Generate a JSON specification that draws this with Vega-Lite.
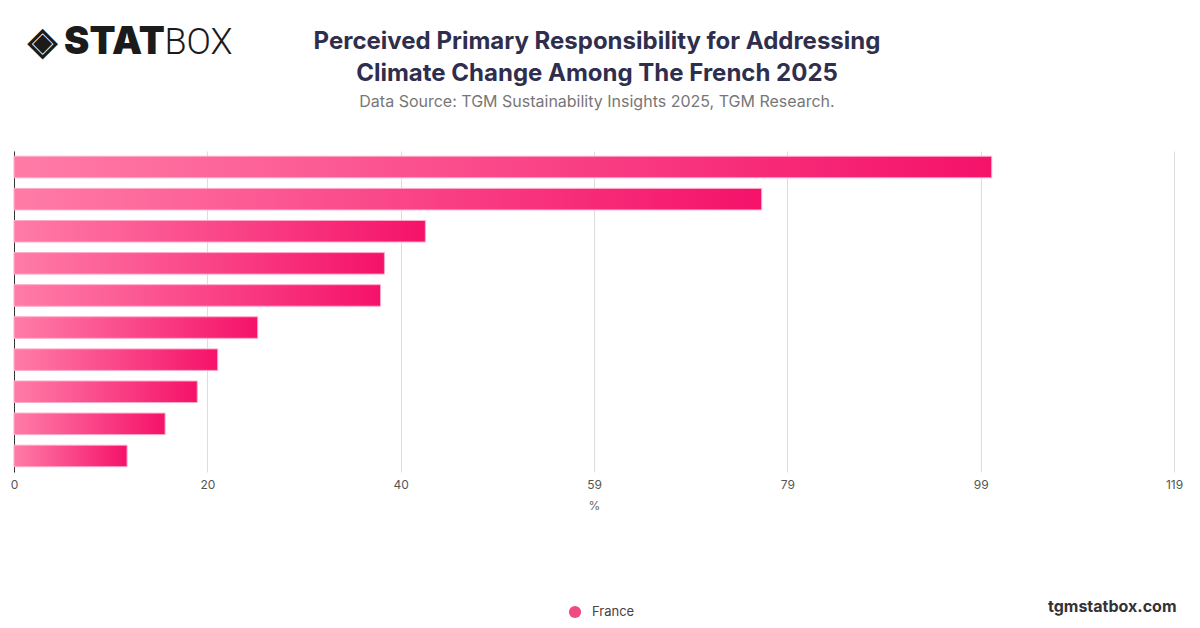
{
  "$schema": "https://vega.github.io/schema/vega-lite/v6.json",
  "width": 1160,
  "height": 321,
  "autosize": {"type": "none"},
  "padding": {"left": 14, "top": 151, "right": 26, "bottom": 156},
  "background": "white",
  "config": {"font": "Inter", "view": {"stroke": null}},
  "title": {
    "text": ["Perceived Primary Responsibility for Addressing", "Climate Change Among The French 2025"],
    "subtitle": "Data Source: TGM Sustainability Insights 2025, TGM Research.",
    "fontSize": 24,
    "fontWeight": "bold",
    "color": "#2f2e4d",
    "lineHeight": 32,
    "subtitleFontSize": 16,
    "subtitleColor": "#777777",
    "subtitleFontWeight": "normal",
    "subtitlePadding": 8,
    "anchor": "middle",
    "frame": "group",
    "dx": 3,
    "offset": -87
  },
  "data": {
    "values": [
      {"response": "Government", "share": 100.3},
      {"response": "Large corporations", "share": 76.7},
      {"response": "Individuals", "share": 42.2},
      {"response": "International organisations", "share": 38.0},
      {"response": "Energy companies", "share": 37.6},
      {"response": "Local authorities", "share": 25.0},
      {"response": "Scientists", "share": 20.9},
      {"response": "Environmental NGOs", "share": 18.8},
      {"response": "Media", "share": 15.5},
      {"response": "Don't know", "share": 11.6}
    ]
  },
  "layer": [
    {
      "mark": {
        "type": "bar",
        "color": {
          "gradient": "linear",
          "x1": 0, "y1": 0, "x2": 1, "y2": 0,
          "stops": [
            {"offset": 0, "color": "#ff7ca7"},
            {"offset": 1, "color": "#f5126a"}
          ]
        },
        "stroke": "#ffa9c9",
        "strokeWidth": 1
      },
      "encoding": {
        "y": {
          "field": "response",
          "type": "nominal",
          "sort": null,
          "scale": {"paddingInner": 0.33, "paddingOuter": 0.165},
          "axis": {
            "labels": false,
            "ticks": false,
            "grid": false,
            "domain": true,
            "domainColor": "#333333",
            "title": "◈ STAT",
            "titleAngle": 0,
            "titleAlign": "left",
            "titleBaseline": "alphabetic",
            "titleX": 13,
            "titleY": -98,
            "titleFontSize": 38,
            "titleFontWeight": 900,
            "titleColor": "#1b1b1b"
          }
        },
        "x": {
          "field": "share",
          "type": "quantitative",
          "scale": {"domain": [0, 119], "nice": false},
          "axis": {
            "values": [0, 19.8333, 39.6667, 59.5, 79.3333, 99.1667, 119],
            "labelExpr": "datum.value > 59 && datum.value < 60 ? '59' : format(datum.value, '.0f')",
            "labelFlush": false,
            "grid": true,
            "gridColor": "#dddddd",
            "domain": false,
            "ticks": false,
            "labelFontSize": 12,
            "labelColor": "#555555",
            "labelPadding": 7,
            "title": "%",
            "titleFontSize": 12,
            "titleFontWeight": "normal",
            "titleColor": "#666666",
            "titlePadding": 10
          }
        }
      }
    },
    {
      "mark": {"type": "text", "text": ""},
      "encoding": {
        "y": {
          "field": "response",
          "type": "nominal",
          "sort": null,
          "axis": {
            "orient": "right",
            "labels": false,
            "ticks": false,
            "grid": false,
            "domain": false,
            "title": "BOX",
            "titleAngle": 0,
            "titleAlign": "left",
            "titleBaseline": "alphabetic",
            "titleX": -1010,
            "titleY": -98,
            "titleFont": "Roboto",
            "titleFontSize": 36,
            "titleFontWeight": 300,
            "titleColor": "#1b1b1b"
          }
        },
        "x": {
          "field": "share",
          "type": "quantitative",
          "axis": {
            "orient": "top",
            "labels": false,
            "ticks": false,
            "grid": false,
            "domain": false,
            "title": "tgmstatbox.com",
            "titleAlign": "right",
            "titleBaseline": "alphabetic",
            "titleX": 1162,
            "titleY": 460,
            "titleFontSize": 16,
            "titleFontWeight": "bold",
            "titleColor": "#333333"
          }
        },
        "color": {
          "datum": "France",
          "scale": {"range": ["#f04a84"]},
          "legend": {
            "title": null,
            "orient": "none",
            "legendX": 554,
            "legendY": 454,
            "symbolType": "circle",
            "symbolSize": 150,
            "labelFontSize": 13,
            "labelColor": "#444444",
            "labelOffset": 10
          }
        }
      }
    }
  ],
  "resolve": {"axis": {"x": "independent", "y": "independent"}}
}
